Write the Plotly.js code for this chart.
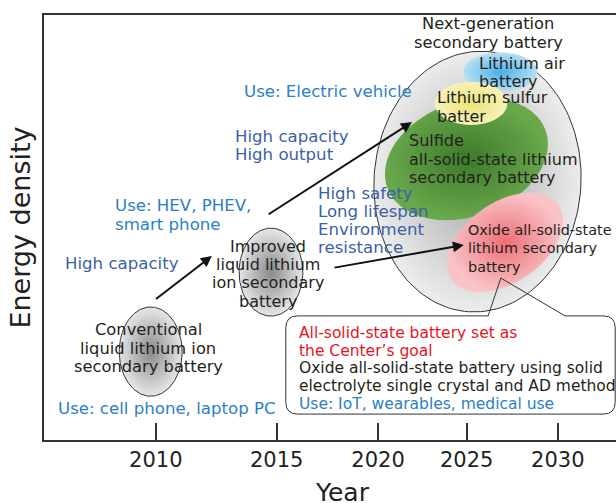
<!DOCTYPE html>
<html>
<head>
<meta charset="utf-8">
<script src="https://cdn.plot.ly/plotly-3.0.1.min.js"></script>
<style>
html,body{margin:0;padding:0;overflow:hidden;background:#fff}
#chart{width:640px;height:503px}
</style>
</head>
<body>
<div id="chart"></div>
<script>
// ---------- data ----------
// x: abstract time scale (drawn in the same unit length as the energy-density scale)
const yearTickVals = [26.3, 54.75, 78.6, 99.45, 120.9];
const yearTickText = ['2010', '2015', '2020', '2025', '2030'];
const xTitle = 'Year';
const yTitle = 'Energy density';

// battery technology regions (ellipses): name, centre, radii, tilt
const techNames   = ['Conventional', 'Improved', 'Next-generation', 'Lithium air', 'Sulfide', 'Lithium sulfur', 'Oxide'];
const techYear    = [25.1, 53.4, 102.0, 107.4, 99.4, 100.5, 108.5];
const techDensity = [20.8, 39.5, 60.8, 86.6, 66.1, 79.2, 46.5];
const techSpreadX = [7.4, 7.5, 24.35, 8.7, 19.8, 8.5, 15.3];
const techSpreadY = [10.5, 10.35, 30.7, 4.6, 13.5, 5.06, 9.4];
const techTilt    = [0, 0, -4, 0, 20, 0, 35];

// labels of the regions
const techLabels = [
  ['Conventional', 'liquid lithium ion', 'secondary battery'],
  ['Improved', 'liquid lithium', 'ion secondary', 'battery'],
  ['Next-generation', 'secondary battery'],
  ['Lithium air', 'battery'],
  ['Sulfide', 'all-solid-state lithium', 'secondary battery'],
  ['Lithium sulfur', 'batter'],
  ['Oxide all-solid-state', 'lithium secondary', 'battery']
];

// feature / usage notes
const noteLines = [
  ['Use: Electric vehicle'],
  ['High capacity', 'High output'],
  ['Use: HEV, PHEV,', 'smart phone'],
  ['High capacity'],
  ['Use: cell phone, laptop PC'],
  ['High safety', 'Long lifespan', 'Environment', 'resistance']
];
const noteKind = ['use', 'prop', 'use', 'prop', 'use', 'prop'];

// callout
const calloutLines = [
  'All-solid-state battery set as',
  'the Center\u2019s goal',
  'Oxide all-solid-state battery using solid',
  'electrolyte single crystal and AD method',
  'Use: IoT, wearables, medical use'
];
const calloutKind = ['goal', 'goal', 'text', 'text', 'use'];

// progression arrows (tail -> head)
const arrowFromX = [26.0, 52.5, 68.0];
const arrowFromY = [32.9, 52.9, 40.5];
const arrowToX   = [39.5, 86.6, 98.8];
const arrowToY   = [43.3, 74.8, 45.9];

// ---------- placement & style ----------
const techLabelPos = [
  {x: 24.5, y: 25.9, anchor: 'center', size: 16.3},
  {x: 52.7, y: 45.6, anchor: 'center', size: 16},
  {x: 104.5, y: 97.9, anchor: 'center', size: 16.3},
  {x: 102.1, y: 88.7, anchor: 'left', size: 16},
  {x: 85.6, y: 70.4, anchor: 'left', size: 16},
  {x: 92.2, y: 80.5, anchor: 'left', size: 16},
  {x: 99.5, y: 49.4, anchor: 'left', size: 14.4}
];
const notePos = [
  {x: 46.8, y: 81.9}, {x: 44.7, y: 71.5}, {x: 16.5, y: 55.1},
  {x: 4.7, y: 41.6}, {x: 3.1, y: 7.5}, {x: 64.2, y: 58.1}
];
const techStyle = [
  {c0: '#8a8a8a', c1: '#e6e6e6', line: '#333'},
  {c0: '#8a8a8a', c1: '#e6e6e6', line: '#333'},
  {c0: '#a8a8a8', c1: '#ececec', line: '#333'},
  {c0: '#48b1ea', c1: '#b8dff5', line: null},
  {c0: '#3c7a2a', c1: '#6aa84c', line: null},
  {c0: '#ebe276', c1: '#f7f2b8', line: null},
  {c0: '#ee6f76', c1: '#f8c4c7', line: null}
];
const drawOrder = [0, 1, 2, 3, 4, 5, 6];
const LINE = 4.3;           // line spacing in axis units
const FONT = 'DejaVu Sans';
const BLACK = '#231f20';
const colors = {use: '#2b7fc3', prop: '#3d5fa6', goal: '#e8141e', text: BLACK};

const box = {x0: 56.9, x1: 134.4, y0: 6.1, y1: 29.2, r: 2.8, pb0: 104.5, pb1: 122.6, tipX: 107.5, tipY: 38.1};
const calloutText = {x: 59.8, y: 25.2, step: 4.18};

// ---------- build ----------
function ellipse(cx, cy, rx, ry, deg) {
  const a = deg * Math.PI / 180, xs = [], ys = [];
  const n = 160;
  for (let i = 0; i <= n; i++) {
    const t = 2 * Math.PI * i / n;
    const ex = rx * Math.cos(t), ey = ry * Math.sin(t);
    xs.push(cx + ex * Math.cos(a) - ey * Math.sin(a));
    ys.push(cy + ex * Math.sin(a) + ey * Math.cos(a));
  }
  return {xs, ys};
}

const traces = drawOrder.map(i => {
  const e = ellipse(techYear[i], techDensity[i], techSpreadX[i], techSpreadY[i], techTilt[i]);
  const st = techStyle[i];
  return {
    type: 'scatter', x: e.xs, y: e.ys, name: techNames[i],
    mode: st.line ? 'lines' : 'none',
    line: {color: st.line || 'rgba(0,0,0,0)', width: 1},
    fill: 'toself',
    fillgradient: {type: 'radial', colorscale: [[0, st.c0], [1, st.c1]]},
    hoverinfo: 'skip', showlegend: false
  };
});

const annotations = [];
function addLines(lines, x, y, anchor, colorFor, size, step) {
  lines.forEach((t, k) => {
    annotations.push({
      x: x, y: y - k * step, xref: 'x', yref: 'y', text: t, showarrow: false,
      xanchor: anchor, yanchor: 'middle', borderpad: 0,
      font: {family: FONT, size: size, color: colorFor(k)}
    });
  });
}
techLabels.forEach((lines, i) => {
  const p = techLabelPos[i];
  addLines(lines, p.x, p.y, p.anchor, () => BLACK, p.size, LINE);
});
noteLines.forEach((lines, i) => {
  const p = notePos[i];
  addLines(lines, p.x, p.y, 'left', () => colors[noteKind[i]], 16.6, LINE);
});
addLines(calloutLines, calloutText.x, calloutText.y, 'left', k => colors[calloutKind[k]], 15.5, calloutText.step);

arrowToX.forEach((hx, i) => {
  annotations.push({
    x: hx, y: arrowToY[i], ax: arrowFromX[i], ay: arrowFromY[i],
    xref: 'x', yref: 'y', axref: 'x', ayref: 'y', text: '',
    showarrow: true, arrowhead: 2, arrowsize: 1.1, arrowwidth: 2, arrowcolor: '#111',
    standoff: 0, startstandoff: 0
  });
});

// x-axis title (placed as paper-anchored text so it sits at the very bottom edge)
annotations.push({
  x: 0.5, y: -0.123, xref: 'paper', yref: 'paper', text: xTitle, showarrow: false,
  xanchor: 'center', yanchor: 'middle', borderpad: 0,
  font: {family: FONT, size: 25, color: BLACK}
});

const b = box;
const rectPath =
  `M ${b.x0 + b.r},${b.y1} L ${b.x1 - b.r},${b.y1} Q ${b.x1},${b.y1} ${b.x1},${b.y1 - b.r} ` +
  `L ${b.x1},${b.y0 + b.r} Q ${b.x1},${b.y0} ${b.x1 - b.r},${b.y0} L ${b.x0 + b.r},${b.y0} ` +
  `Q ${b.x0},${b.y0} ${b.x0},${b.y0 + b.r} L ${b.x0},${b.y1 - b.r} Q ${b.x0},${b.y1} ${b.x0 + b.r},${b.y1} Z`;
const outlinePath =
  `M ${b.x0 + b.r},${b.y1} L ${b.pb0},${b.y1} L ${b.tipX},${b.tipY} L ${b.pb1},${b.y1} ` +
  `L ${b.x1 - b.r},${b.y1} Q ${b.x1},${b.y1} ${b.x1},${b.y1 - b.r} ` +
  `L ${b.x1},${b.y0 + b.r} Q ${b.x1},${b.y0} ${b.x1 - b.r},${b.y0} L ${b.x0 + b.r},${b.y0} ` +
  `Q ${b.x0},${b.y0} ${b.x0},${b.y0 + b.r} L ${b.x0},${b.y1 - b.r} Q ${b.x0},${b.y1} ${b.x0 + b.r},${b.y1}`;

const shapes = [
  {type: 'path', path: rectPath, xref: 'x', yref: 'y', fillcolor: '#ffffff', line: {width: 0}, layer: 'above'},
  {type: 'path', path: outlinePath, xref: 'x', yref: 'y', fillcolor: 'rgba(0,0,0,0)', line: {color: '#333', width: 1}, layer: 'above'}
];

const layout = {
  width: 640, height: 503,
  margin: {l: 44, r: 0, t: 15, b: 63},
  paper_bgcolor: '#fff', plot_bgcolor: '#fff',
  font: {family: FONT, color: BLACK},
  showlegend: false,
  xaxis: {
    range: [0, 140.24], tickvals: yearTickVals, ticktext: yearTickText,
    ticks: 'inside', ticklen: 17, tickwidth: 2, tickcolor: '#333',
    showline: true, linewidth: 2, linecolor: '#333', mirror: true,
    showgrid: false, zeroline: false, fixedrange: true, automargin: false,
    tickfont: {family: FONT, size: 21, color: BLACK}
  },
  yaxis: {
    range: [0, 100], showticklabels: false, ticks: '',
    showline: true, linewidth: 2, linecolor: '#333',
    showgrid: false, zeroline: false, fixedrange: true, automargin: false,
    title: {text: yTitle, font: {family: FONT, size: 27, color: BLACK}, standoff: 4}
  },
  annotations: annotations,
  shapes: shapes
};

Plotly.newPlot('chart', traces, layout, {displayModeBar: false, staticPlot: true});
</script>
</body>
</html>
